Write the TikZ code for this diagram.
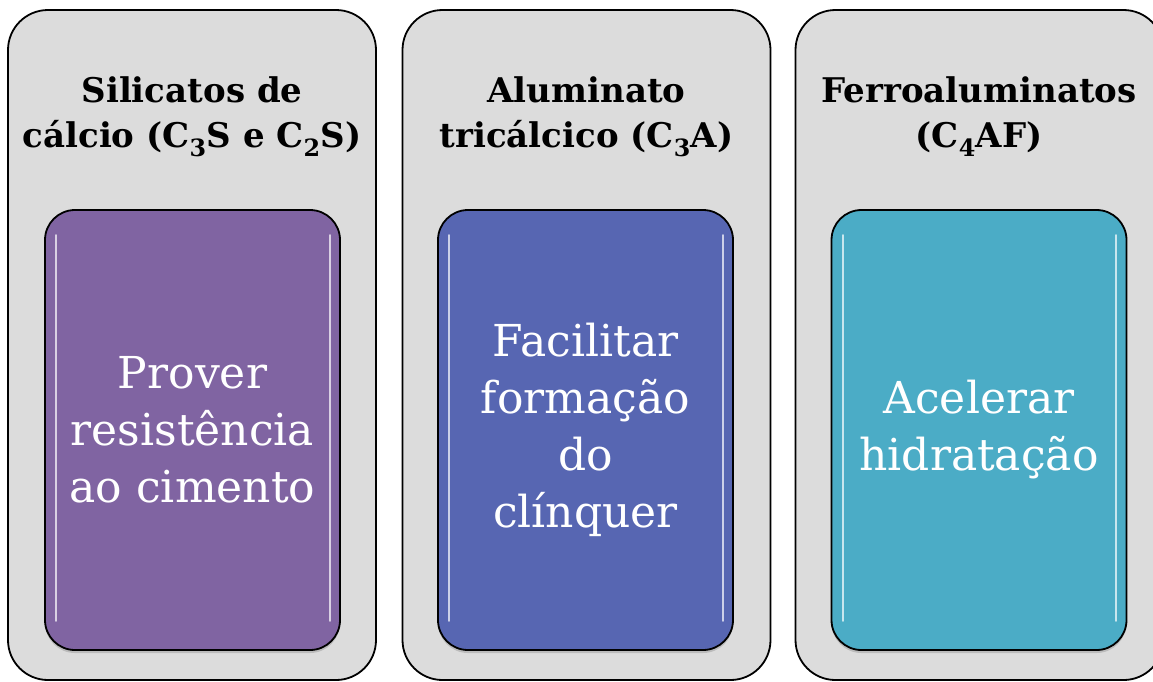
\documentclass[tikz,border=0pt]{standalone}
\usepackage{fontspec}
\setmainfont{DejaVu Serif}
\usetikzlibrary{shadows}
\definecolor{granito}{RGB}{220,220,220}
\definecolor{roxo}{RGB}{128,100,162}
\definecolor{anil}{RGB}{87,102,178}
\definecolor{turquesa}{RGB}{75,172,198}
\tikzset{
  caixa/.style={draw=black, line width=1.8pt, fill=granito, rounded corners=40pt,
    minimum width=368pt, minimum height=670pt},
  titulo/.style={font=\bfseries\fontsize{34}{45}\selectfont, align=center},
  bloco/.style={draw=black, line width=1.8pt, rounded corners=30pt,
    minimum width=295pt, minimum height=440pt, text=white, align=center,
    font=\fontsize{44}{57}\selectfont,
    drop shadow={opacity=.35, shadow xshift=0pt, shadow yshift=-3pt}},
  brilho/.style={white, opacity=.7, line width=2pt, line cap=round}
}

\begin{document}
\begin{tikzpicture}[x=1pt,y=-1pt]
  \useasboundingbox (0,0) rectangle (1153,681);
  \clip (0,0) rectangle (1153,681);
  % caixas de fundo
  \node[caixa] (silic) at (192,345) {};
  \node[caixa] (alum) at (586.5,345) {};
  \node[caixa] (ferro) at (979.5,345) {};
  % titulos
  \node[titulo] (silict) at (192,117) {Silicatos de\\cálcio (C\textsubscript{3}S e C\textsubscript{2}S)};
  \node[titulo] (alumt) at (586.5,117) {Aluminato\\tricálcico (C\textsubscript{3}A)};
  \node[titulo] (ferrot) at (979,117) {Ferroaluminatos\\(C\textsubscript{4}AF)};
  % blocos coloridos
  \node[bloco, fill=roxo] (prover) at (192.5,430) {Prover\\resistência\\ao cimento};
  \node[bloco, fill=anil] (facil) at (585.5,430) {Facilitar\\formação\\do\\clínquer};
  \node[bloco, fill=turquesa] (acel) at (979,430) {Acelerar\\hidratação};
  % brilhos
  \draw[brilho] ([shift={(12,26)}]prover.north west) -- ([shift={(12,-30)}]prover.south west);
  \draw[brilho] ([shift={(-11,26)}]prover.north east) -- ([shift={(-11,-30)}]prover.south east);
  \draw[brilho] ([shift={(12,26)}]facil.north west) -- ([shift={(12,-30)}]facil.south west);
  \draw[brilho] ([shift={(-11,26)}]facil.north east) -- ([shift={(-11,-30)}]facil.south east);
  \draw[brilho] ([shift={(12,26)}]acel.north west) -- ([shift={(12,-30)}]acel.south west);
  \draw[brilho] ([shift={(-11,26)}]acel.north east) -- ([shift={(-11,-30)}]acel.south east);
\end{tikzpicture}
\end{document}
